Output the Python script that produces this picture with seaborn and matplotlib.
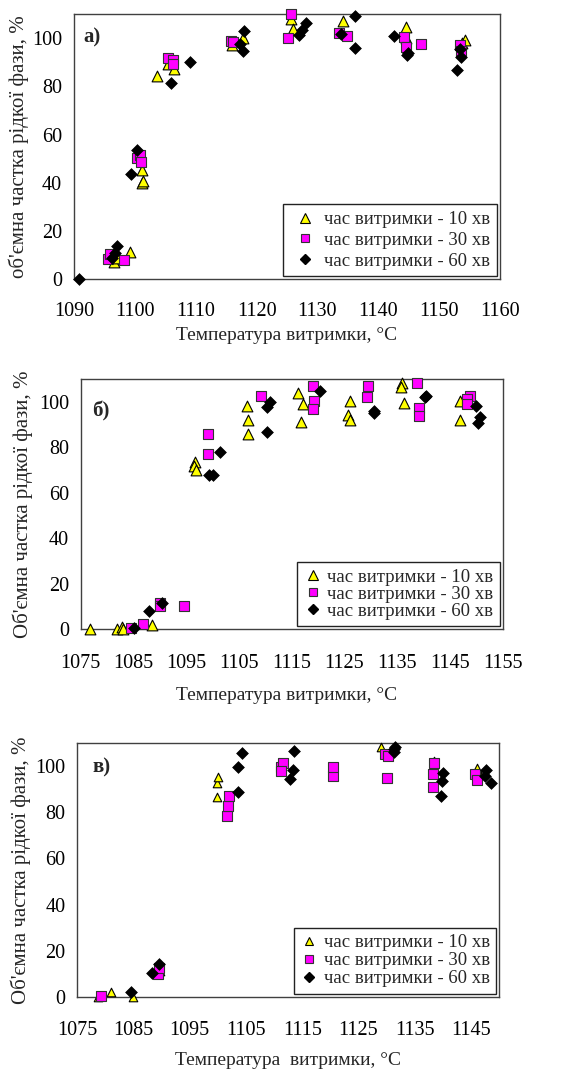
import numpy as np
import pandas as pd
import matplotlib
matplotlib.use("Agg")
import matplotlib.pyplot as plt
from matplotlib.lines import Line2D
import seaborn as sns

sns.set_theme(style="white")
plt.rcParams['font.family'] = ['Liberation Serif', 'DejaVu Serif']

# ---------------- Panel a) ----------------
a_t10_x = [1096.5, 1097.3, 1099.2, 1101.1, 1101.1, 1101.3, 1103.7, 1105.5, 1106.4, 1116.0, 1117.7,
           1125.7, 1126.0, 1134.2, 1144.5, 1144.6, 1153.7, 1154.3]
a_t10_y = [7.3, 9.0, 11.5, 45.4, 40.1, 40.8, 84.1, 89.2, 87.3, 97.2, 100.0,
           108.0, 103.7, 106.9, 104.8, 100.0, 98.0, 99.3]
a_t30_x = [1095.6, 1095.9, 1098.2, 1100.3, 1100.8, 1101.0, 1105.5, 1106.2, 1106.3, 1115.8, 1116.1,
           1125.2, 1125.7, 1133.5, 1134.9, 1144.2, 1144.5, 1147.0, 1153.5, 1153.6]
a_t30_y = [8.3, 10.5, 8.0, 50.2, 51.6, 48.5, 91.7, 91.0, 89.3, 99.0, 98.2,
           100.0, 110.0, 102.0, 100.7, 100.4, 96.5, 97.6, 97.2, 94.5]
a_t60_x = [1090.8, 1096.2, 1097.0, 1096.8, 1099.4, 1100.4, 1105.9, 1109.1, 1117.2, 1117.8, 1117.9,
           1127.0, 1127.5, 1128.1, 1133.8, 1136.1, 1136.1, 1142.6, 1144.9, 1144.8, 1153.0, 1153.5, 1153.6]
a_t60_y = [0.0, 8.7, 13.8, 10.8, 43.6, 53.7, 81.3, 89.9, 97.6, 94.7, 102.8,
           101.4, 103.5, 106.2, 101.7, 109.0, 95.9, 100.7, 94.0, 93.0, 86.6, 95.4, 92.0]

# ---------------- Panel б) ----------------
b_t10_x = [1076.8, 1081.8, 1082.8, 1083.0, 1088.6, 1096.7, 1096.4, 1096.8, 1106.6, 1106.8, 1106.8,
           1116.2, 1117.1, 1116.8, 1126.0, 1125.6, 1126.0, 1136.0, 1135.8, 1136.3, 1146.9, 1146.9]
b_t10_y = [0.0, 0.0, 1.2, 0.0, 1.9, 73.8, 71.8, 70.0, 98.2, 92.0, 86.0,
           103.8, 99.0, 91.0, 100.4, 94.3, 92.0, 108.2, 106.7, 99.7, 100.4, 92.0]
b_t30_x = [1084.5, 1086.9, 1090.0, 1090.0, 1094.5, 1099.1, 1099.1, 1109.1, 1119.0, 1119.2, 1119.0,
           1129.4, 1129.2, 1138.7, 1139.2, 1139.2, 1148.8, 1148.2, 1148.3]
b_t30_y = [0.4, 2.2, 11.6, 10.2, 10.3, 86.0, 77.0, 102.6, 107.2, 100.6, 97.1,
           107.0, 102.0, 108.2, 97.5, 94.0, 102.6, 101.2, 99.0]
b_t60_x = [1085.1, 1087.9, 1090.5, 1099.4, 1100.1, 1101.4, 1110.4, 1110.9, 1110.4, 1120.3,
           1130.6, 1130.6, 1140.5, 1140.3, 1150.0, 1150.7, 1150.3]
b_t60_y = [0.4, 8.1, 11.4, 67.9, 67.9, 78.2, 97.7, 100.1, 86.7, 105.0,
           96.0, 95.0, 102.6, 102.0, 98.2, 93.5, 90.6]

# ---------------- Panel в) ----------------
c_t10_x = [1078.7, 1081.0, 1084.9, 1089.7, 1099.9, 1100.1, 1099.9, 1129.1, 1138.4, 1146.1, 1146.5]
c_t10_y = [0.0, 2.2, 0.0, 11.0, 92.9, 95.5, 86.8, 108.5, 102.3, 99.4, 97.0]
c_t30_x = [1079.3, 1089.3, 1089.6, 1101.7, 1101.8, 1102.0, 1111.2, 1111.5, 1111.2, 1120.4, 1120.4,
           1129.7, 1130.3, 1130.0, 1138.4, 1138.2, 1138.2, 1145.7, 1146.1]
c_t30_y = [0.3, 9.8, 12.3, 78.4, 82.8, 87.3, 99.6, 101.3, 98.0, 95.7, 99.6,
           105.4, 104.6, 94.8, 101.3, 96.5, 90.9, 96.7, 94.1]
c_t60_x = [1084.6, 1088.2, 1089.6, 1103.6, 1103.5, 1104.3, 1112.9, 1113.3, 1113.5,
           1131.4, 1131.5, 1131.3, 1139.7, 1139.8, 1140.0, 1147.5, 1147.7, 1148.6]
c_t60_y = [2.2, 10.4, 14.0, 88.7, 99.6, 105.6, 94.5, 98.4, 106.7,
           107.4, 108.5, 106.4, 87.1, 93.8, 97.3, 95.8, 98.4, 92.6]

legend_labels = ["час витримки - 10 хв", "час витримки - 30 хв", "час витримки - 60 хв"]
y_ticks = [0, 20, 40, 60, 80, 100]

W, H = 573, 1070
fig = plt.figure(figsize=(W / 100, H / 100), dpi=100)

def px_axes(left, top, right, bottom):
    return fig.add_axes([left / W, 1 - bottom / H, (right - left) / W, (bottom - top) / H])

SPINE = "#404040"
FS_TICK = 14.5
FS_YLAB = 15
FS_XLAB = 14
FS_LEG = 13.5

def draw_panel(ax, t10, t30, t60, xlim, xticks, ylabel, xlabel, tag, tagpos, sizes, leg_spacing,
               ylab_x, xlab_pos, xpad, handlelen):
    s10, s30, s60 = sizes
    sns.scatterplot(x=t10[0], y=t10[1], marker="^", s=s10, color="#FFFF00", edgecolor="black",
                    linewidth=0.8, ax=ax, clip_on=False, zorder=3, legend=False)
    sns.scatterplot(x=t30[0], y=t30[1], marker="s", s=s30, color="#FF00FF", edgecolor="#333333",
                    linewidth=0.8, ax=ax, clip_on=False, zorder=4, legend=False)
    sns.scatterplot(x=t60[0], y=t60[1], marker="D", s=s60, color="black", edgecolor="black",
                    linewidth=0.5, ax=ax, clip_on=False, zorder=5, legend=False)
    ax.set_xlim(*xlim)
    ax.set_ylim(0, 110)
    ax.set_xticks(xticks)
    ax.set_yticks(y_ticks)
    ax.set_xticklabels([str(t) for t in xticks], fontsize=FS_TICK)
    ax.set_yticklabels([str(t) for t in y_ticks], fontsize=FS_TICK)
    for sp in ax.spines.values():
        sp.set_color(SPINE)
        sp.set_linewidth(1.0)
    ax.tick_params(axis="both", direction="out", length=5.5, width=1, color=SPINE, colors="black")
    ax.tick_params(axis="x", pad=xpad)
    ax.tick_params(axis="y", pad=3)
    ax.set_ylabel(ylabel, fontsize=FS_YLAB)
    ax.yaxis.set_label_coords(ylab_x, 0.5)
    ax.set_xlabel(xlabel, fontsize=FS_XLAB)
    ax.xaxis.set_label_coords(*xlab_pos)
    ax.text(tagpos[0], tagpos[1], tag, transform=ax.transAxes, fontsize=15, fontweight="bold",
            va="center", ha="left")
    handles = [
        Line2D([], [], marker="^", ls="", markersize=np.sqrt(s10), markerfacecolor="#FFFF00",
               markeredgecolor="black", markeredgewidth=0.8),
        Line2D([], [], marker="s", ls="", markersize=np.sqrt(s30) * 0.9, markerfacecolor="#FF00FF",
               markeredgecolor="#333333", markeredgewidth=0.8),
        Line2D([], [], marker="D", ls="", markersize=np.sqrt(s60) * 0.9, markerfacecolor="black",
               markeredgecolor="black"),
    ]
    leg = ax.legend(handles, legend_labels, loc="lower right", fontsize=FS_LEG, frameon=True,
                    fancybox=False, edgecolor="#222222", framealpha=1, borderaxespad=0.15,
                    handlelength=handlelen, handletextpad=0.25, labelspacing=leg_spacing,
                    borderpad=0.35)
    leg.get_frame().set_linewidth(1.0)

ax_a = px_axes(74, 14, 500, 279.3)
draw_panel(ax_a, (a_t10_x, a_t10_y), (a_t30_x, a_t30_y), (a_t60_x, a_t60_y),
           (1090, 1160), list(range(1090, 1161, 10)),
           "об'ємна частка рідкої фази, %", "Температура витримки, °С", "а)", (0.021, 0.91),
           (60, 48, 36), 0.2, -0.105, (0.5, -0.178), 10.5, 1.6)

ax_b = px_axes(80.7, 379.3, 502.7, 629.3)
draw_panel(ax_b, (b_t10_x, b_t10_y), (b_t30_x, b_t30_y), (b_t60_x, b_t60_y),
           (1075, 1155), list(range(1075, 1156, 10)),
           "Об'ємна частка рідкої фази, %", "Температура витримки, °С", "б)", (0.028, 0.87),
           (60, 48, 36), 0.0, -0.113, (0.489, -0.23), 12, 1.0)

ax_c = px_axes(77.3, 743.3, 499, 996.7)
draw_panel(ax_c, (c_t10_x, c_t10_y), (c_t30_x, c_t30_y), (c_t60_x, c_t60_y),
           (1075, 1150), list(range(1075, 1146, 10)),
           "Об'ємна частка рідкої фази, %", "Температура  витримки, °С", "в)", (0.036, 0.905),
           (38, 48, 36), 0.05, -0.11, (0.5, -0.217), 12, 1.0)

fig.savefig("out.png", dpi=100)
